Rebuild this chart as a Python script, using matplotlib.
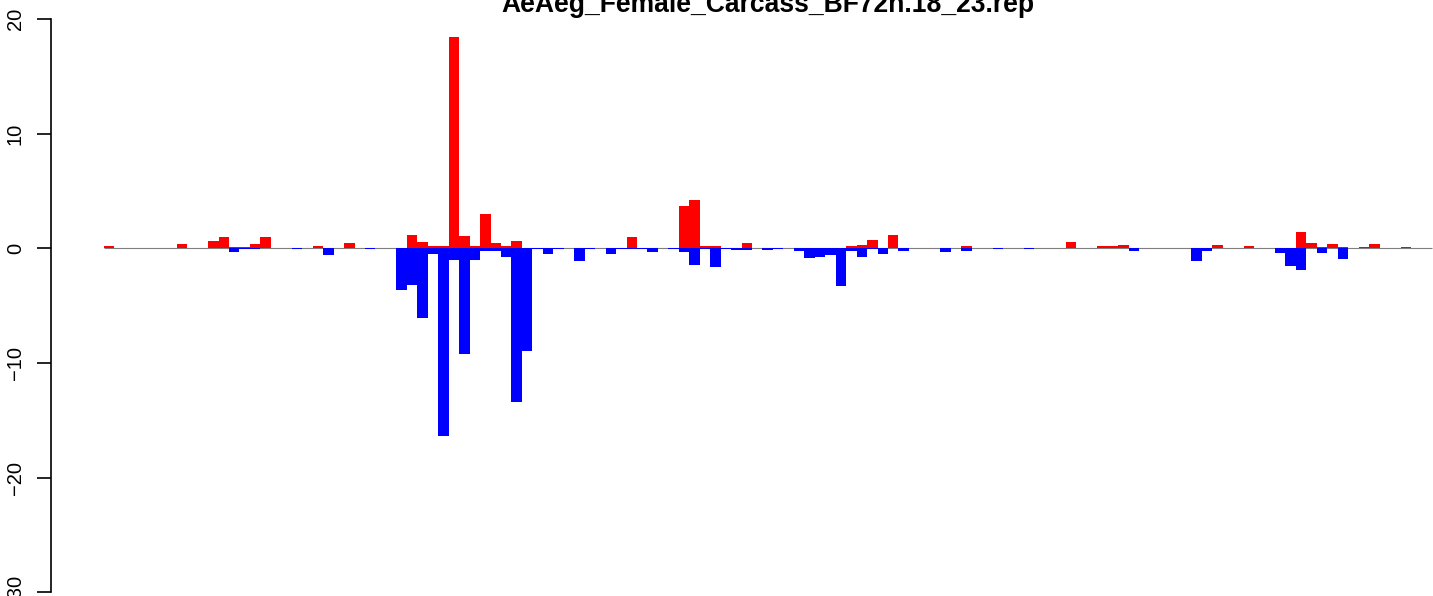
import matplotlib
matplotlib.use("Agg")
import matplotlib.pyplot as plt
import numpy as np

title = "AeAeg_Female_Carcass_BF72h.18_23.rep"

pos_values = [
    0.2, 0, 0, 0, 0, 0, 0.05, 0.38, 0, 0.03,
    0.64, 0.99, 0.12, 0.12, 0.38, 0.99, 0.03, 0, 0, 0,
    0.2, 0, 0, 0.47, 0, 0, 0, 0, 0.05, 1.16,
    0.55, 0.2, 0.2, 18.43, 1.08, 0.2, 2.99, 0.47, 0.2, 0.64,
    0, 0, 0, 0, 0, 0.05, 0, 0.05, 0, 0,
    0.99, 0, 0, 0, 0, 3.69, 4.22, 0.2, 0.2, 0,
    0, 0.49, 0, 0, 0, 0, 0, 0, 0, 0,
    0, 0.2, 0.29, 0.73, 0, 1.16, 0, 0, 0, 0,
    0, 0, 0.2, 0, 0, 0, 0, 0, 0, 0,
    0, 0, 0.55, 0.03, 0, 0.2, 0.2, 0.29, 0, 0,
    0.03, 0, 0, 0, 0, 0, 0.29, 0, 0, 0.2,
    0, 0, 0, 0, 1.45, 0.47, 0.12, 0.38, 0.12, 0,
    0.12, 0.38, 0, 0, 0.12, 0.03, 0.03,
]

neg_values = [
    0, 0, 0, 0, 0, 0, 0, 0, 0, 0,
    0, 0, -0.32, -0.06, -0.06, 0, 0, 0, -0.05, 0,
    0, -0.58, 0, 0, 0, -0.05, 0, 0, -3.63, -3.2,
    -6.05, -0.52, -16.4, -1.02, -9.19, -1.02, -0.2, -0.2, -0.73, -13.4,
    -8.92, -0.05, -0.47, -0.05, 0, -1.08, -0.03, 0, -0.47, -0.03,
    -0.03, -0.03, -0.29, 0, -0.03, -0.29, -1.42, -0.05, -1.6, -0.05,
    -0.15, -0.15, 0, -0.15, -0.03, 0, -0.2, -0.81, -0.73, -0.55,
    -3.26, -0.2, -0.73, -0.03, -0.47, 0, -0.2, 0, 0, 0,
    -0.29, 0, -0.2, 0, 0, -0.03, 0, 0, -0.03, 0,
    0, 0, 0, 0, 0, 0, 0, 0, -0.2, 0,
    0, 0, 0, 0, -1.08, -0.2, 0, 0, 0, 0,
    0, 0, -0.38, -1.51, -1.86, 0, -0.38, 0, -0.9, 0,
    0, 0, 0, 0, 0, 0, 0,
]

y_ticks = [-30, -20, -10, 0, 10, 20]
y_tick_labels = ["\u221230", "\u221220", "\u221210", "0", "10", "20"]

W, H = 1433, 596
fig = plt.figure(figsize=(W / 100, H / 100), dpi=100)

# pixel geometry of plot region (extends past the right/top edge like the cropped source)
ax_left_px, ax_right_px = 50.5, 1485.0
ax = fig.add_axes([ax_left_px / W, 0, (ax_right_px - ax_left_px) / W, 1])

n = len(pos_values)
x = np.arange(n)
ax.plot([0, n], [0, 0], color="#7f7f7f", lw=0.8, zorder=1, solid_capstyle="butt")
ax.bar(x, pos_values, width=1.0, align="edge", color="#ff0000", linewidth=0, zorder=2)
ax.bar(x, neg_values, width=1.0, align="edge", color="#0000ff", linewidth=0, zorder=2)

px_per_unit_x = 10.46
first_bar_px = 103.5
ax.set_xlim((ax_left_px - first_bar_px) / px_per_unit_x,
            (ax_right_px - first_bar_px) / px_per_unit_x)
zero_px = 248.3
px_per_unit_y = 11.465
ax.set_ylim((zero_px - H) / px_per_unit_y, zero_px / px_per_unit_y)

for s in ["top", "right", "bottom"]:
    ax.spines[s].set_visible(False)
ax.spines["left"].set_bounds(-30, 20)
ax.spines["left"].set_linewidth(1.2)
ax.set_xticks([])
ax.set_yticks(y_ticks)
ax.set_yticklabels(y_tick_labels, family=["Liberation Sans", "DejaVu Sans"], fontsize=14.5)
ax.tick_params(axis="y", length=10, width=1.2, pad=8.5, labelrotation=90)
for lab in ax.get_yticklabels():
    lab.set_va("center")
    lab.set_ha("right")
ax.patch.set_visible(False)

center_px = (ax_left_px + ax_right_px) / 2
fig.text(center_px / W, 1 - 12 / H, title, ha="center", va="baseline",
         fontsize=19.1, fontweight="bold", family=["Liberation Sans", "DejaVu Sans"])

fig.savefig("out.png", dpi=100, facecolor="white")
